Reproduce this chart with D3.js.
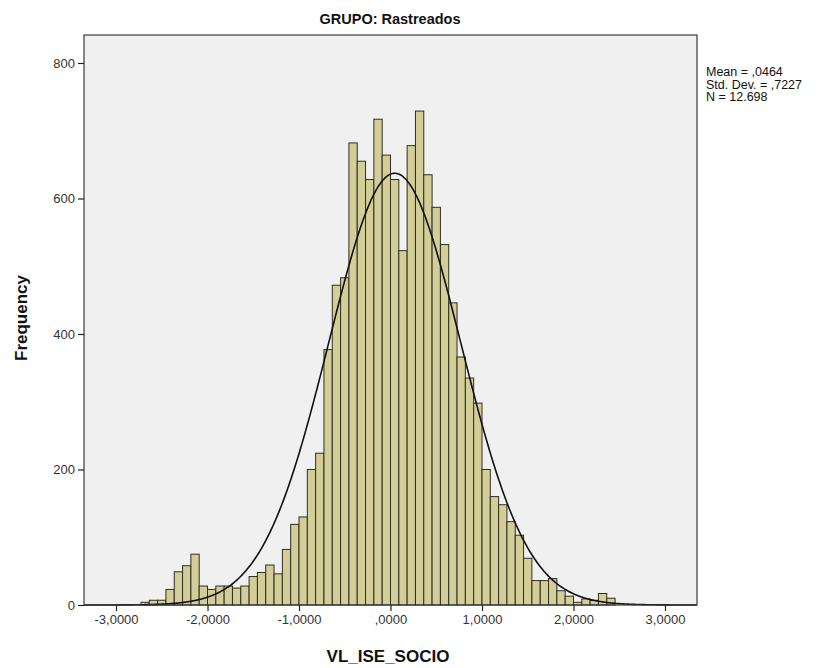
<!DOCTYPE html>
<html>
<head>
<meta charset="utf-8">
<script src="https://cdn.jsdelivr.net/npm/d3@7/dist/d3.min.js"></script>
<style>
  html, body { margin: 0; padding: 0; background: #ffffff; }
  svg { display: block; font-family: "Liberation Sans", Arial, sans-serif; }
</style>
</head>
<body>
<svg id="chart" width="833" height="668"></svg>
<script>
// Histogram of VL_ISE_SOCIO, group "Rastreados", with fitted normal curve.
const chartTitle = "GRUPO: Rastreados";
const xTitle = "VL_ISE_SOCIO";
const yTitle = "Frequency";

// Bins: equal width, starting at the lower edge of the first bin.
const binWidth = 1 / 11;
const firstBinStart = -30 / 11;
const frequencies = [
  4, 7, 7, 23, 49, 58, 75, 28, 23, 28, 28,
  25, 28, 42, 48, 59, 46, 82, 119, 130, 200, 224,
  377, 472, 483,
  682, 655, 628, 717, 664, 628, 523, 678, 729, 635, 587, 532,
  446, 366, 335, 298, 200, 160, 148, 123,
  103, 69, 36, 36, 39, 21, 13, 4, 9, 7, 17, 10
];

// Summary statistics shown beside the plot
const statMean = 0.0464;
const statSD = 0.7227;
const statN = 12698;
const statLines = ["Mean = ,0464", "Std. Dev. = ,7227", "N = 12.698"];

// Axis ticks
const xTicks = [-3, -2, -1, 0, 1, 2, 3];
const xTickLabels = ["-3,0000", "-2,0000", "-1,0000", ",0000", "1,0000", "2,0000", "3,0000"];
const yTicks = [0, 200, 400, 600, 800];

const svg = d3.select("#chart");
const plot = { left: 84, right: 697, top: 35, bottom: 605 };

const x = d3.scaleLinear().domain([-3.35, 3.35]).range([plot.left, plot.right]);
const y = d3.scaleLinear().domain([0, 841.3]).range([plot.bottom, plot.top]);

// Plot area background and frame
svg.append("rect")
  .attr("x", plot.left).attr("y", plot.top)
  .attr("width", plot.right - plot.left).attr("height", plot.bottom - plot.top)
  .attr("fill", "#f0f0f0");

// Bars
const bins = frequencies.map((f, i) => ({
  x0: firstBinStart + i * binWidth,
  x1: firstBinStart + (i + 1) * binWidth,
  count: f
}));

svg.append("g").selectAll("rect")
  .data(bins)
  .join("rect")
  .attr("x", d => x(d.x0))
  .attr("y", d => y(d.count))
  .attr("width", d => x(d.x1) - x(d.x0))
  .attr("height", d => y(0) - y(d.count))
  .attr("fill", "#d3ce98")
  .attr("stroke", "#2e2e24")
  .attr("stroke-width", 1);

// Normal curve scaled to the histogram
const pdf = v => Math.exp(-0.5 * ((v - statMean) / statSD) ** 2) / (statSD * Math.sqrt(2 * Math.PI));
const curvePts = d3.range(0, 601).map(k => {
  const v = -3.35 + k * (6.7 / 600);
  return [v, statN * binWidth * pdf(v)];
});
svg.append("path")
  .datum(curvePts)
  .attr("fill", "none")
  .attr("stroke", "#111")
  .attr("stroke-width", 1.6)
  .attr("d", d3.line().x(d => x(d[0])).y(d => y(d[1])).curve(d3.curveBasis));

// Frame
svg.append("rect")
  .attr("x", plot.left).attr("y", plot.top)
  .attr("width", plot.right - plot.left).attr("height", plot.bottom - plot.top)
  .attr("fill", "none")
  .attr("stroke", "#3a3a3a")
  .attr("stroke-width", 1.2);

// X axis
const xAxis = d3.axisBottom(x)
  .tickValues(xTicks)
  .tickFormat((d, i) => xTickLabels[i])
  .tickSize(6)
  .tickPadding(4);
const gx = svg.append("g").attr("transform", `translate(0,${plot.bottom})`).call(xAxis);
gx.select(".domain").remove();
gx.selectAll("line").attr("stroke", "#222").attr("stroke-width", 1.2);
gx.selectAll("text").attr("font-size", 13).attr("fill", "#333")
  .attr("font-family", "'Liberation Sans', Arial, sans-serif");

// Y axis
const yAxis = d3.axisLeft(y)
  .tickValues(yTicks)
  .tickFormat(d3.format("d"))
  .tickSize(6)
  .tickPadding(3);
const gy = svg.append("g").attr("transform", `translate(${plot.left},0)`).call(yAxis);
gy.select(".domain").remove();
gy.selectAll("line").attr("stroke", "#222").attr("stroke-width", 1.2);
gy.selectAll("text").attr("font-size", 13).attr("fill", "#333")
  .attr("font-family", "'Liberation Sans', Arial, sans-serif");

// Titles
svg.append("text")
  .attr("x", 390).attr("y", 24)
  .attr("text-anchor", "middle")
  .attr("font-size", 14.5).attr("font-weight", "bold").attr("fill", "#111")
  .text(chartTitle);

svg.append("text")
  .attr("x", 388).attr("y", 662)
  .attr("text-anchor", "middle")
  .attr("font-size", 17).attr("font-weight", "bold").attr("fill", "#111")
  .text(xTitle);

svg.append("text")
  .attr("transform", `translate(27,318) rotate(-90)`)
  .attr("text-anchor", "middle")
  .attr("font-size", 17).attr("font-weight", "bold").attr("fill", "#111")
  .text(yTitle);

// Statistics block
svg.append("g").selectAll("text")
  .data(statLines)
  .join("text")
  .attr("x", 706)
  .attr("y", (d, i) => 76 + i * 12.5)
  .attr("font-size", 12.5).attr("fill", "#111")
  .text(d => d);
</script>
</body>
</html>
